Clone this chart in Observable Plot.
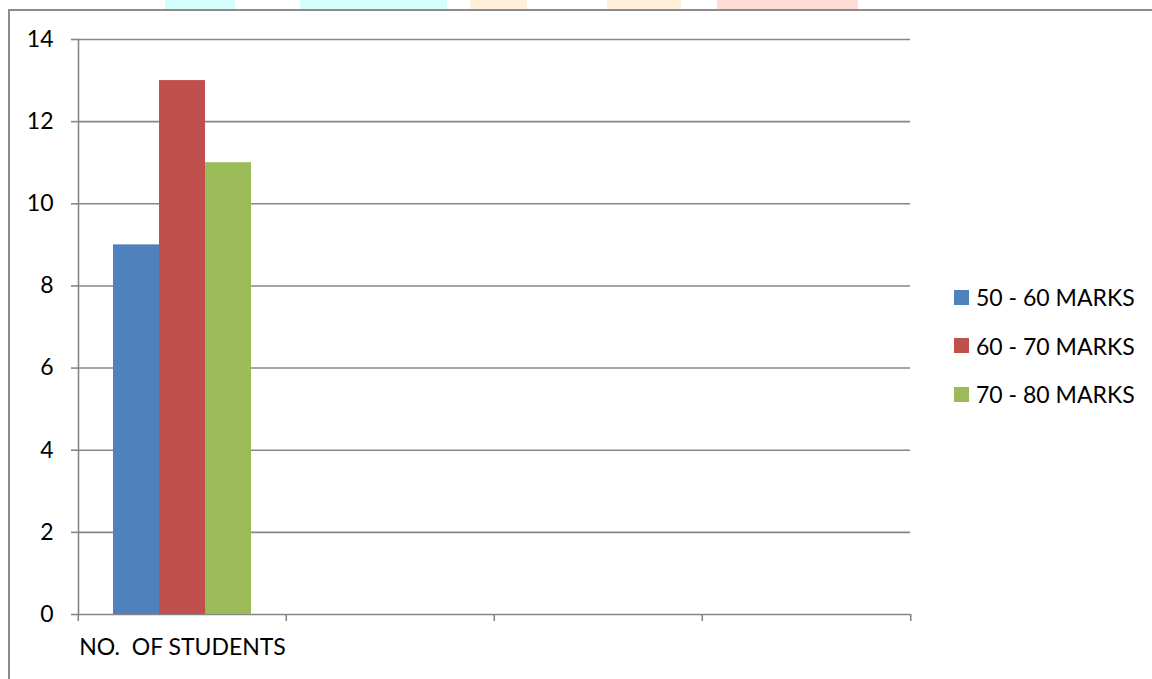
<!DOCTYPE html>
<html><head><meta charset="utf-8">
<script src="https://cdn.jsdelivr.net/npm/d3@7"></script>
<script src="https://cdn.jsdelivr.net/npm/@observablehq/plot@0.6"></script>
<style>
html,body{margin:0;padding:0;background:#fff;}
#wrap{position:relative;width:1152px;height:679px;overflow:hidden;font-family:Lato,sans-serif;}
#chart{position:absolute;left:0;top:0;}
.wm{position:absolute;top:0;height:10px;}
.frame-left{position:absolute;left:8px;top:9px;width:2px;height:680px;background:#8c8c8c;}
.frame-top{position:absolute;left:8px;top:9px;width:1150px;height:2px;background:#8c8c8c;}
#legend{position:absolute;left:954px;top:273px;font-size:23px;color:#000;}
.item{display:flex;align-items:center;height:48.5px;white-space:nowrap;}
.sw{width:15px;height:15px;margin-right:7px;flex:none;}
svg text{white-space:pre;}
</style></head><body>
<div id="wrap">
  <div class="wm" style="left:165px;width:70px;background:#d4fdfd"></div>
  <div class="wm" style="left:300px;width:147px;background:#d4fdfd"></div>
  <div class="wm" style="left:470px;width:57px;background:#fff0dd"></div>
  <div class="wm" style="left:607px;width:74px;background:#fff0dd"></div>
  <div class="wm" style="left:717px;width:141px;background:#ffdcd4"></div>
  <div class="frame-top"></div>
  <div class="frame-left"></div>
  <div id="chart"></div>
  <div id="legend"></div>
</div>
<script>
const categories = ["NO.  OF STUDENTS", " ", "  ", "   "];
const series = ["50 - 60 MARKS", "60 - 70 MARKS", "70 - 80 MARKS"];
const values = [9, 13, 11];
const colors = ["#4F81BD", "#C0504D", "#9BBB59"];
const yTicks = [0, 2, 4, 6, 8, 10, 12, 14];

const data = series.map((s, i) => ({category: categories[0], series: s, value: values[i]}));
const grid = categories.flatMap(c => yTicks.map(v => ({category: c, v})));

const gray = "#868686";
const W = 930, H = 679, mL = 77, mR = 19, mT = 39, mB = 65;
const half = (W - mL - mR) / categories.length / 2;

const chart = Plot.plot({
  width: W, height: H,
  marginLeft: mL, marginRight: mR, marginTop: mT, marginBottom: mB,
  style: {fontFamily: "Lato, sans-serif", fontSize: "23px", color: "#000", background: "transparent", overflow: "visible"},
  fx: {domain: categories, padding: 0, label: null, axis: null},
  x: {domain: series, paddingInner: 0, paddingOuter: 0.72, axis: null},
  y: {domain: [0, 14], label: null, axis: null},
  color: {domain: series, range: colors},
  marks: [
    Plot.ruleY(grid, {fx: "category", y: "v", stroke: gray, strokeWidth: 1.6}),
    Plot.barY(data, {fx: "category", x: "series", y: "value", fill: "series"}),
    Plot.frame({anchor: "left", facetAnchor: "left", stroke: gray, strokeWidth: 1.6}),
    Plot.axisY({ticks: yTicks, tickSize: 7, tickPadding: 18, stroke: gray, strokeWidth: 1.6, fill: "#000", fontSize: 23, label: null}),
    Plot.axisFx({anchor: "bottom", tickSize: 7, dx: -half, tickFormat: () => "", stroke: gray, strokeWidth: 1.6, label: null}),
    Plot.axisFx({anchor: "bottom", ticks: [categories[categories.length - 1]], tickSize: 7, dx: half, tickFormat: () => "", stroke: gray, strokeWidth: 1.6, label: null}),
    Plot.axisFx({anchor: "bottom", tickSize: 0, tickPadding: 24, fill: "#000", fontSize: 23, label: null})
  ]
});
document.getElementById("chart").appendChild(chart);

const legend = document.getElementById("legend");
series.forEach((s, i) => {
  const it = document.createElement("div");
  it.className = "item";
  const sw = document.createElement("span");
  sw.className = "sw";
  sw.style.background = colors[i];
  const t = document.createElement("span");
  t.textContent = s;
  it.appendChild(sw); it.appendChild(t);
  legend.appendChild(it);
});
</script>
</body></html>
